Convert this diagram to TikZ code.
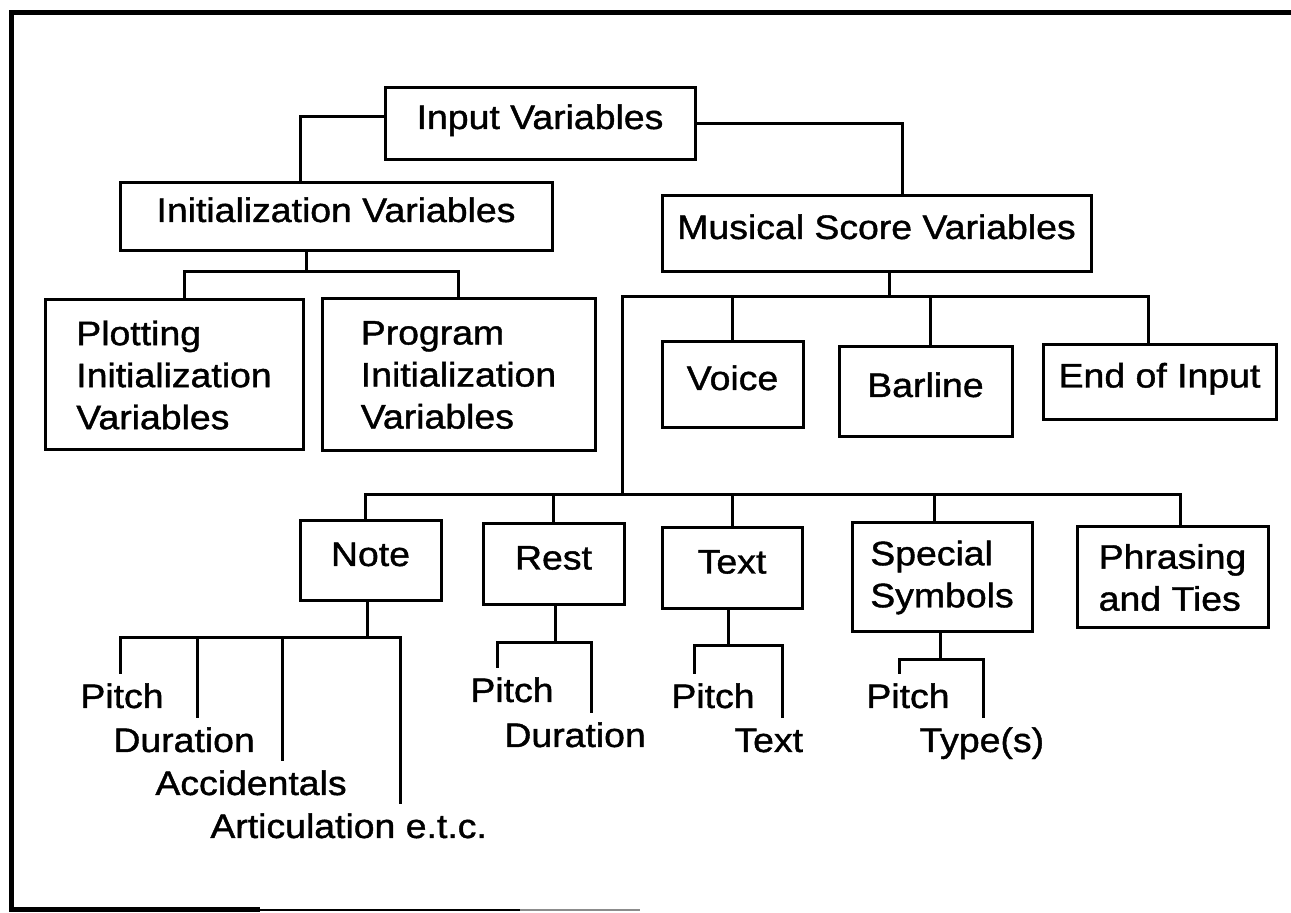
\documentclass[tikz,border=0pt]{standalone}
\usepackage{fontspec}
\setmainfont[FakeStretch=1.1, FakeBold=1.2]{Liberation Sans}

\begin{document}
\begin{tikzpicture}[x=0.5pt, y=-0.5pt,
  box/.style={draw, line width=1.5pt, inner sep=0pt, font=\fontsize{17}{21}\selectfont},
  onebox/.style={box, text height=12pt, text depth=7pt},
  leaf/.style={anchor=base west, inner xsep=0pt, inner ysep=5pt, text height=12pt,
    font=\fontsize{17}{21}\selectfont},
  link/.style={line width=1.5pt}]
  \useasboundingbox (0,0) rectangle (1291,913);

  % Outer frame
  \draw[line width=2.5pt] (1291,13) -| (11,910) -- (260,910);
  \draw[line width=1pt] (260,910) -- (520,910);
  \draw[line width=0.6pt, black!45] (520,910) -- (640,910);

  % Boxes
  \node[onebox, minimum width=155pt, minimum height=36pt]     (input)   at (540,124)     {Input Variables};
  \node[onebox, minimum width=216pt, minimum height=34pt]     (initv)   at (336,217)     {Initialization Variables};
  \node[onebox, minimum width=214.5pt, minimum height=38pt]   (music)   at (876.5,234)   {Musical Score Variables};
  \node[box, align=left, minimum width=129pt, minimum height=75pt]   (plot) at (174,375)   {Plotting\\Initialization\\Variables};
  \node[box, align=left, minimum width=136.5pt, minimum height=76pt] (prog) at (458.5,375) {Program\\Initialization\\Variables};
  \node[onebox, minimum width=70.5pt, minimum height=43pt]    (voice)   at (732.5,385)   {Voice};
  \node[onebox, minimum width=86.5pt, minimum height=45pt]    (barl)    at (925.5,392)   {Barline};
  \node[onebox, minimum width=116.5pt, minimum height=37.5pt] (endin)   at (1159.5,382.5) {End of Input};
  \node[onebox, minimum width=70.5pt, minimum height=40pt]    (note)    at (370.5,561)   {Note};
  \node[onebox, minimum width=70.5pt, minimum height=40.5pt]  (rest)    at (553.5,564.5) {Rest};
  \node[onebox, minimum width=70pt, minimum height=40.5pt]    (textb)   at (732,568.5)   {Text};
  \node[box, align=left, minimum width=90pt, minimum height=54.5pt]   (special) at (942,577.5)  {Special\\Symbols};
  \node[box, align=left, minimum width=95.5pt, minimum height=50.5pt] (phrase)  at (1172.5,577.5) {Phrasing\\and Ties};

  % Leaf labels
  \node[leaf] (npitch) at (80,708)  {Pitch};
  \node[leaf] (ndur)   at (113,752) {Duration};
  \node[leaf] (nacc)   at (155,795) {Accidentals};
  \node[leaf] (nart)   at (210,838) {Articulation e.t.c.};
  \node[leaf] (rpitch) at (470,702) {Pitch};
  \node[leaf] (rdur)   at (504,747) {Duration};
  \node[leaf] (tpitch) at (671,708) {Pitch};
  \node[leaf] (ttext)  at (734,752) {Text};
  \node[leaf] (spitch) at (866,708) {Pitch};
  \node[leaf] (stype)  at (919,752) {Type(s)};

  % Branch points
  \coordinate (initbar)  at (306,272);
  \coordinate (musicbar) at (889,297);
  \coordinate (lowbar)   at (622,495);
  \coordinate (notebar)  at (367,638);
  \coordinate (restbar)  at (555,643);
  \coordinate (textbar)  at (728,646);
  \coordinate (specbar)  at (940,660);

  % Top level
  \draw[link] ([yshift=3.5pt]input.west) -| ([xshift=-18pt]initv.north);
  \draw[link] (input.east) -| ([xshift=12.75pt]music.north);

  % Initialization branch
  \draw[link] (initv.south -| initbar) -- (initbar);
  \draw[link] ([xshift=5pt]plot.north) |- (initbar) -| (prog.north);

  % Musical score branch
  \draw[link] (music.south -| musicbar) -- (musicbar);
  \draw[link] (lowbar) |- (musicbar) -| ([xshift=-5.75pt]endin.north);
  \draw[link] (voice.north) |- (musicbar);
  \draw[link] ([xshift=2.25pt]barl.north) |- (musicbar);

  % Lower row
  \draw[link] ([xshift=-2.75pt]note.north) |- (lowbar) -| ([xshift=3.75pt]phrase.north);
  \draw[link] (rest.north) |- (lowbar);
  \draw[link] (textb.north) |- (lowbar);
  \draw[link] ([xshift=-4pt]special.north) |- (lowbar);

  % Note
  \draw[link] (note.south -| notebar) -- (notebar);
  \draw[link] ([xshift=20pt]npitch.north west) |- (notebar) -| ([xshift=95pt]nart.north west);
  \draw[link] ([xshift=42pt]ndur.north west) |- (notebar);
  \draw[link] ([xshift=63.5pt]nacc.north west) |- (notebar);

  % Rest
  \draw[link] (rest.south -| restbar) -- (restbar);
  \draw[link] ([xshift=13.5pt]rpitch.north west) |- (restbar) -| ([xshift=43.5pt]rdur.north west);

  % Text
  \draw[link] (textb.south -| textbar) -- (textbar);
  \draw[link] ([xshift=11.5pt]tpitch.north west) |- (textbar) -| ([xshift=24pt]ttext.north west);

  % Special symbols
  \draw[link] (special.south -| specbar) -- (specbar);
  \draw[link] ([xshift=16.5pt]spitch.north west) |- (specbar) -| ([xshift=32pt]stype.north west);
\end{tikzpicture}
\end{document}
